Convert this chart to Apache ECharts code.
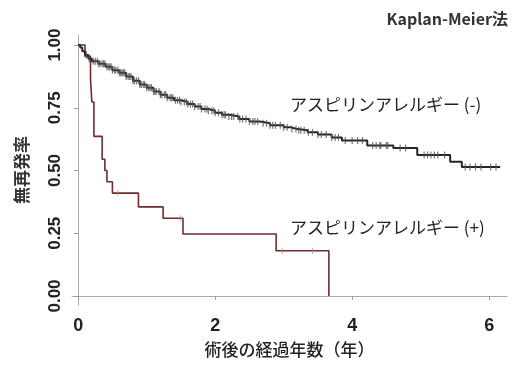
<!DOCTYPE html>
<html>
<head>
<meta charset="utf-8">
<script src="https://cdn.jsdelivr.net/npm/echarts@6/dist/echarts.min.js"></script>
<style>html,body{margin:0;padding:0;background:#fff}#c{width:521px;height:365px}</style>
</head>
<body>
<div id="c"></div>
<script>
// Time (years) and survival for the aspirin-allergy (-) group
const negTimes = [0, 0.03, 0.06, 0.1, 0.15, 0.2, 0.3, 0.4, 0.5, 0.6, 0.7, 0.8, 0.9, 1.0, 1.1, 1.2, 1.3, 1.4, 1.5, 1.6, 1.7, 1.8, 1.9, 2.0, 2.1, 2.2, 2.35, 2.5, 2.65, 2.8, 3.0, 3.1, 3.2, 3.35, 3.5, 3.7, 3.85, 4.22, 4.6, 4.95, 5.43, 5.6, 6.16];
const negSurv  = [1.0, 0.99, 0.975, 0.96, 0.945, 0.935, 0.925, 0.913, 0.90, 0.89, 0.875, 0.858, 0.843, 0.83, 0.815, 0.802, 0.79, 0.78, 0.773, 0.765, 0.755, 0.745, 0.738, 0.73, 0.722, 0.715, 0.705, 0.695, 0.688, 0.68, 0.672, 0.665, 0.66, 0.652, 0.643, 0.632, 0.62, 0.60, 0.59, 0.562, 0.535, 0.514, 0.514];
// Time and survival for the aspirin-allergy (+) group
const posTimes = [0, 0.1, 0.18, 0.2, 0.23, 0.35, 0.39, 0.42, 0.5, 0.88, 1.24, 1.53, 2.89, 3.66];
const posSurv  = [1.0, 0.955, 0.864, 0.773, 0.636, 0.545, 0.50, 0.455, 0.41, 0.355, 0.31, 0.247, 0.18, 0.0];
// Censoring times
const negCensor = [0.12,0.16,0.22,0.25,0.28,0.3,0.32,0.35,0.37,0.39,0.42,0.44,0.46,0.48,0.5,0.53,0.55,0.58,0.6,0.62,0.64,0.66,0.68,0.7,0.73,0.75,0.77,0.8,0.82,0.85,0.88,0.9,0.92,0.95,0.97,1.0,1.03,1.05,1.07,1.1,1.12,1.14,1.18,1.2,1.22,1.26,1.28,1.3,1.34,1.36,1.38,1.42,1.45,1.48,1.5,1.55,1.58,1.6,1.64,1.67,1.7,1.75,1.78,1.8,1.85,1.88,1.9,1.95,1.98,2.0,2.05,2.1,2.13,2.15,2.2,2.24,2.27,2.33,2.36,2.4,2.45,2.5,2.55,2.58,2.62,2.7,2.75,2.8,2.84,2.88,2.95,3.0,3.05,3.12,3.18,3.22,3.25,3.3,3.36,3.42,3.5,3.55,3.62,3.7,3.75,3.8,3.9,4.0,4.08,4.15,4.3,4.35,4.4,4.42,4.5,4.52,4.7,4.78,5.05,5.1,5.15,5.2,5.25,5.35,5.65,5.72,5.8,5.88,6.02,6.1];
const posCensor = [0.58, 1.49, 2.98, 3.42];
// Tick labels
const xTicks = [0, 2, 4, 6];
const yTicks = [0, 0.25, 0.5, 0.75, 1.0];
const title = 'Kaplan-Meier法';
const xName = '術後の経過年数（年）';
const yName = '無再発率';
const negLabel = 'アスピリンアレルギー (-)';
const posLabel = 'アスピリンアレルギー (+)';

function pairs(ts, vs){ return ts.map((t,i)=>[t, vs[i]]); }
function stepAt(ts, vs, t){ let v = vs[0]; for (let i=0;i<ts.length;i++){ if (ts[i] <= t) v = vs[i]; } return v; }
function censorPts(c, ts, vs){ return c.map(t => [t, stepAt(ts, vs, t)]); }

const chart = echarts.init(document.getElementById('c'), null, {renderer:'canvas'});
const numFont = '"Liberation Sans", Arial, sans-serif';
const cjkFont = '"Noto Sans CJK JP", sans-serif';
chart.setOption({
  animation: false,
  backgroundColor: '#fff',
  title: { text: title, right: 8, top: 6, textStyle: { fontFamily: cjkFont, fontSize: 16, fontWeight: 'bold', color: '#333' } },
  grid: { left: 72, right: 14, top: 35, bottom: 60 },
  xAxis: {
    type: 'value', min: -0.09, max: 6.26,
    name: xName, nameLocation: 'middle', nameGap: 36,
    nameTextStyle: { fontFamily: cjkFont, fontSize: 17, fontWeight: 500, color: '#222' },
    axisLine: { lineStyle: { color: '#aaa', width: 1 } },
    axisTick: { show: true, length: 4, lineStyle: { color: '#999' }, customValues: xTicks },
    axisLabel: { customValues: xTicks, margin: 12, fontFamily: numFont, fontSize: 18, fontWeight: 'bold', color: '#222' },
    splitLine: { show: false }
  },
  yAxis: {
    type: 'value', min: -0.036, max: 1.04,
    name: yName, nameLocation: 'middle', nameGap: 42, nameRotate: 90,
    nameTextStyle: { fontFamily: cjkFont, fontSize: 17, fontWeight: 'bold', color: '#333' },
    axisLine: { show: true, lineStyle: { color: '#aaa', width: 1 } },
    axisTick: { show: true, length: 4, lineStyle: { color: '#999' }, customValues: yTicks },
    axisLabel: { customValues: yTicks, rotate: 90, margin: 8, fontFamily: numFont, fontSize: 17, fontWeight: 'bold', color: '#222',
      formatter: v => Number(v).toFixed(2) },
    splitLine: { show: false }
  },
  series: [
    { type: 'line', step: 'end', data: pairs(negTimes, negSurv), showSymbol: false,
      lineStyle: { color: '#262626', width: 2 }, z: 3 },
    { type: 'line', step: 'end', data: pairs(posTimes, posSurv), showSymbol: false,
      lineStyle: { color: '#6e2c2c', width: 1.6 }, z: 2 },
    { type: 'scatter', data: censorPts(negCensor, negTimes, negSurv), symbol: 'rect', symbolSize: [1.2, 7],
      itemStyle: { color: '#555' }, z: 4 },
    { type: 'scatter', data: censorPts(posCensor, posTimes, posSurv), symbol: 'rect', symbolSize: [1, 6],
      itemStyle: { color: '#999' }, z: 4 }
  ],
  graphic: [
    { type: 'text', left: 290, top: 96, style: { text: negLabel, font: '17px ' + cjkFont, fill: '#222' } },
    { type: 'text', left: 290, top: 219, style: { text: posLabel, font: '17px ' + cjkFont, fill: '#222' } }
  ]
});
</script>
</body>
</html>
